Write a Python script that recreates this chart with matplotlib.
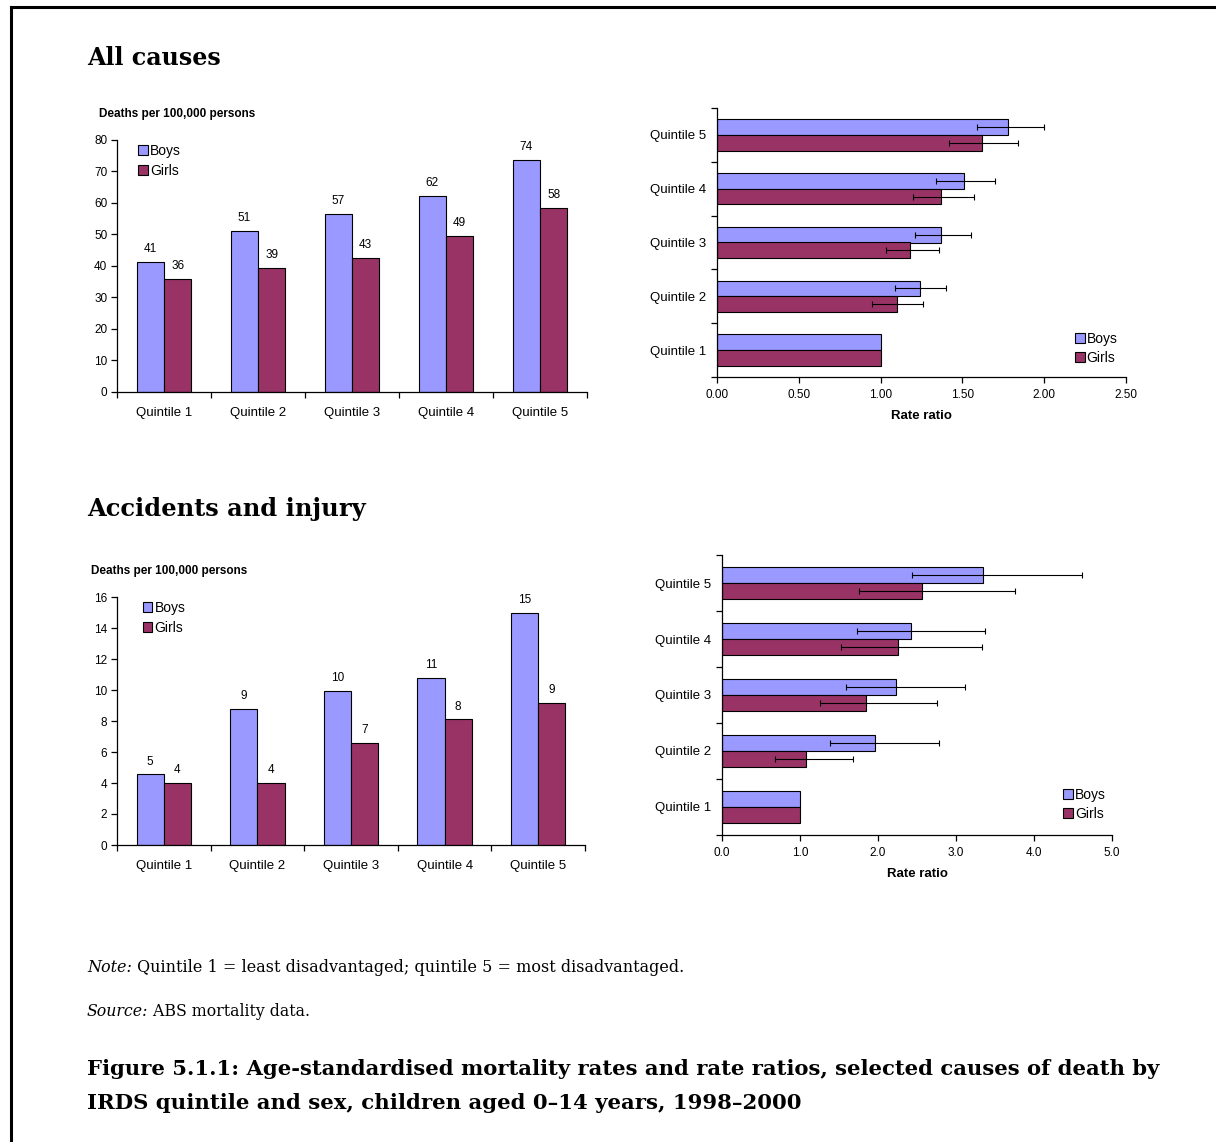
import numpy as np
import matplotlib
matplotlib.use("Agg")
import matplotlib.pyplot as plt
from matplotlib.lines import Line2D
from matplotlib.ticker import FixedLocator, NullFormatter

plt.rcParams['font.family'] = ['Liberation Sans', 'DejaVu Sans']

quintiles = ["Quintile 1", "Quintile 2", "Quintile 3", "Quintile 4", "Quintile 5"]
series = ["Boys", "Girls"]

# All causes: age-standardised death rates per 100,000
all_boys = [41.2, 51.0, 56.6, 62.3, 73.6]
all_girls = [35.9, 39.4, 42.6, 49.4, 58.3]

# All causes: rate ratios (Quintile 1 = reference) with 95% CI
all_rr_boys = [1.00, 1.24, 1.37, 1.51, 1.78]
all_rr_boys_lo = [1.00, 1.09, 1.21, 1.34, 1.59]
all_rr_boys_hi = [1.00, 1.40, 1.55, 1.70, 2.00]
all_rr_girls = [1.00, 1.10, 1.18, 1.37, 1.62]
all_rr_girls_lo = [1.00, 0.95, 1.03, 1.20, 1.42]
all_rr_girls_hi = [1.00, 1.26, 1.36, 1.57, 1.84]

# Accidents and injury: death rates per 100,000
acc_boys = [4.55, 8.75, 9.95, 10.8, 14.95]
acc_girls = [4.0, 4.0, 6.6, 8.1, 9.15]

# Accidents and injury: rate ratios with 95% CI
acc_rr_boys = [1.00, 1.96, 2.23, 2.42, 3.35]
acc_rr_boys_lo = [1.00, 1.38, 1.59, 1.73, 2.43]
acc_rr_boys_hi = [1.00, 2.78, 3.11, 3.37, 4.62]
acc_rr_girls = [1.00, 1.08, 1.85, 2.26, 2.57]
acc_rr_girls_lo = [1.00, 0.68, 1.26, 1.53, 1.75]
acc_rr_girls_hi = [1.00, 1.68, 2.75, 3.33, 3.76]

BOYS = "#9999FF"
GIRLS = "#993366"
W, H = 1216, 1142
SERIF = ['DejaVu Serif']

fig = plt.figure(figsize=(W / 100, H / 100), dpi=100)
fig.patch.set_facecolor("white")
renderer = fig.canvas.get_renderer()


def frac(x0, y0, x1, y1):
    return [x0 / W, 1 - y1 / H, (x1 - x0) / W, (y1 - y0) / H]


def style_axes(ax):
    for s in ("top", "right"):
        ax.spines[s].set_visible(False)
    for s in ("left", "bottom"):
        ax.spines[s].set_linewidth(0.9)
        ax.spines[s].set_color("black")


def legend(ax, loc, bbox, spacing):
    handles = [plt.Rectangle((0, 0), 1, 1, facecolor=c, edgecolor="black", linewidth=0.8)
               for c in (BOYS, GIRLS)]
    ax.legend(handles, series, loc=loc, bbox_to_anchor=bbox, frameon=False, fontsize=10,
              handlelength=0.7, handleheight=0.7, handletextpad=0.15, labelspacing=spacing,
              borderaxespad=0, borderpad=0)


def column_chart(rect, boys, girls, ymax, ystep, ylabel_xy, leg_bbox):
    ax = fig.add_axes(rect)
    style_axes(ax)
    x = np.arange(len(quintiles))
    w = 0.29
    b1 = ax.bar(x - w / 2, boys, w, color=BOYS, edgecolor="black", linewidth=0.8)
    b2 = ax.bar(x + w / 2, girls, w, color=GIRLS, edgecolor="black", linewidth=0.8)
    for bars in (b1, b2):
        ax.bar_label(bars, fmt="%.0f", padding=5, fontsize=8.5)
    ax.set_xlim(-0.5, len(quintiles) - 0.5)
    ax.set_ylim(0, ymax)
    ax.set_yticks(np.arange(0, ymax + 0.1, ystep))
    ax.tick_params(axis="y", direction="out", length=4, width=0.9, labelsize=8.5, pad=3)
    ax.set_xticks(x)
    ax.set_xticklabels(quintiles)
    ax.tick_params(axis="x", which="major", length=0, labelsize=9.5, pad=11)
    ax.xaxis.set_minor_locator(FixedLocator(np.arange(-0.5, len(quintiles), 1.0)))
    ax.xaxis.set_minor_formatter(NullFormatter())
    ax.tick_params(axis="x", which="minor", direction="out", length=4, width=0.9)
    fig.text(ylabel_xy[0] / W, 1 - ylabel_xy[1] / H, "Deaths per 100,000 persons",
             fontsize=8.5, fontweight="bold", va="center", ha="left")
    legend(ax, "upper left", leg_bbox, 0.45)
    return ax


def ratio_chart(rect, rb, rb_lo, rb_hi, rg, rg_lo, rg_hi, xmax, xstep, xfmt, leg_bbox):
    ax = fig.add_axes(rect)
    style_axes(ax)
    y = np.arange(len(quintiles))
    h = 0.29
    ax.barh(y + h / 2, rb, h, color=BOYS, edgecolor="black", linewidth=0.8)
    ax.barh(y - h / 2, rg, h, color=GIRLS, edgecolor="black", linewidth=0.8)
    rb, rg = np.array(rb), np.array(rg)
    eb = [rb[1:] - np.array(rb_lo[1:]), np.array(rb_hi[1:]) - rb[1:]]
    eg = [rg[1:] - np.array(rg_lo[1:]), np.array(rg_hi[1:]) - rg[1:]]
    ax.errorbar(rb[1:], y[1:] + h / 2, xerr=eb, fmt="none", ecolor="black",
                elinewidth=0.8, capsize=2.5, capthick=0.8)
    ax.errorbar(rg[1:], y[1:] - h / 2, xerr=eg, fmt="none", ecolor="black",
                elinewidth=0.8, capsize=2.5, capthick=0.8)
    ax.set_ylim(-0.5, len(quintiles) - 0.5)
    ax.set_yticks(y)
    ax.set_yticklabels(quintiles)
    ax.tick_params(axis="y", which="major", length=0, labelsize=9.5, pad=8)
    ax.yaxis.set_minor_locator(FixedLocator(np.arange(-0.5, len(quintiles), 1.0)))
    ax.yaxis.set_minor_formatter(NullFormatter())
    ax.tick_params(axis="y", which="minor", direction="out", length=4, width=0.9)
    ticks = np.arange(0, xmax + 1e-9, xstep)
    ax.set_xlim(0, xmax)
    ax.set_xticks(ticks)
    ax.set_xticklabels([xfmt.format(t) for t in ticks])
    ax.tick_params(axis="x", direction="out", length=4, width=0.9, labelsize=8.5, pad=5)
    ax.set_xlabel("Rate ratio", fontsize=9.5, fontweight="bold", labelpad=6)
    legend(ax, "lower left", leg_bbox, 0.35)
    return ax


def fitted_runs(x_px, y_px, parts, width_px, size0, weight="normal"):
    # lay out runs of serif text on one line, sized to span the given width
    def measure(size):
        total = 0
        for text, style in parts:
            t = fig.text(0, 0, text, fontsize=size, family=SERIF, style=style, fontweight=weight)
            total += t.get_window_extent(renderer=renderer).width
            t.remove()
        return total
    size = size0 * width_px / measure(size0)
    x = x_px
    for text, style in parts:
        t = fig.text(x / W, 1 - y_px / H, text, fontsize=size, family=SERIF, style=style,
                     fontweight=weight, va="center", ha="left")
        x += t.get_window_extent(renderer=renderer).width


# Section headings
fitted_runs(87, 58, [("All causes", "normal")], 134, 20, "bold")
fitted_runs(87, 509, [("Accidents and injury", "normal")], 278, 20, "bold")

column_chart(frac(117, 140, 587, 392), all_boys, all_girls, 80, 10, (99, 114), (0.045, 0.985))
ratio_chart(frac(717, 108, 1126, 377), all_rr_boys, all_rr_boys_lo, all_rr_boys_hi,
            all_rr_girls, all_rr_girls_lo, all_rr_girls_hi, 2.5, 0.5, "{:.2f}", (0.875, 0.045))

column_chart(frac(117, 597, 585, 845), acc_boys, acc_girls, 16, 2, (91, 571), (0.055, 0.985))
ratio_chart(frac(722, 555, 1112, 835), acc_rr_boys, acc_rr_boys_lo, acc_rr_boys_hi,
            acc_rr_girls, acc_rr_girls_lo, acc_rr_girls_hi, 5.0, 1.0, "{:.1f}", (0.875, 0.05))

# Notes and caption
fitted_runs(87, 967, [("Note:", "italic"),
                      (" Quintile 1 = least disadvantaged; quintile 5 = most disadvantaged.", "normal")],
            592, 12)
fitted_runs(87, 1012, [("Source:", "italic"), (" ABS mortality data.", "normal")], 222, 12)
fitted_runs(87, 1069, [("Figure 5.1.1: Age-standardised mortality rates and rate ratios, "
                        "selected causes of death by", "normal")], 1070, 16, "bold")
fitted_runs(87, 1103, [("IRDS quintile and sex, children aged 0\u201314 years, 1998\u20132000",
                        "normal")], 713, 16, "bold")

# Page frame (top and left rules)
fig.add_artist(Line2D([10.5 / W, 1.0], [1 - 6.5 / H, 1 - 6.5 / H], color="black", linewidth=2.2))
fig.add_artist(Line2D([10.5 / W, 10.5 / W], [0.0, 1 - 6.5 / H], color="black", linewidth=2.2))

fig.savefig("out.png", dpi=100, facecolor="white")
